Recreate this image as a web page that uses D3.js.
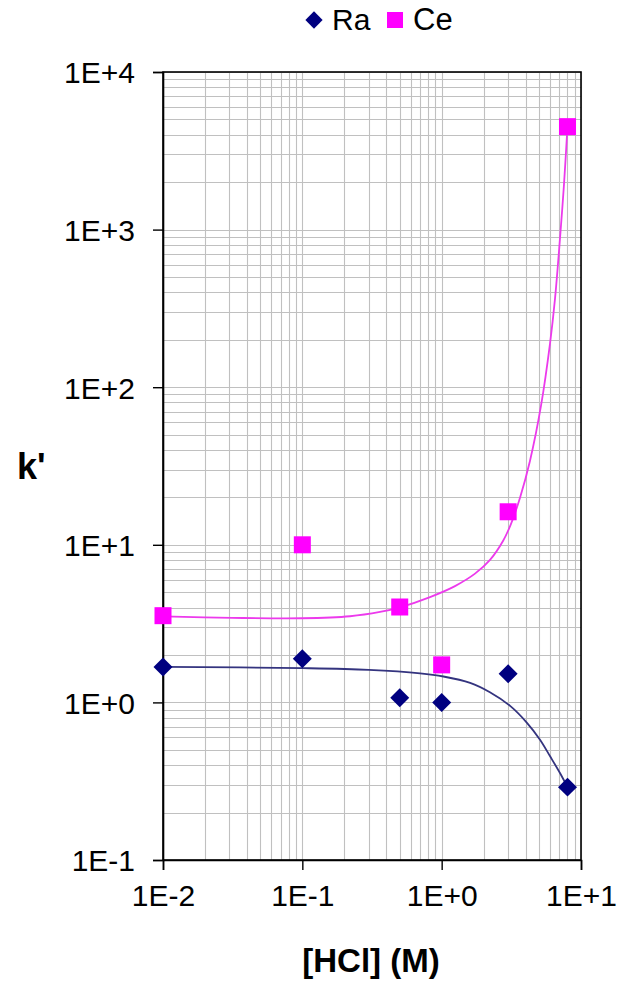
<!DOCTYPE html>
<html>
<head>
<meta charset="utf-8">
<script src="https://cdn.jsdelivr.net/npm/d3@7"></script>
<style>
  html, body { margin: 0; padding: 0; background: #fff; }
  svg { display: block; }
  text { font-family: "Liberation Sans", Arial, Helvetica, sans-serif; fill: #000; }
</style>
</head>
<body>
<svg id="chart" width="625" height="982"></svg>
<script>
// HCl concentration (M) and measured retention factors k'
const hcl = [0.01, 0.1, 0.5, 1, 3, 8];
const kRa = [1.68, 1.89, 1.07, 1.0, 1.52, 0.29];
const kCe = [3.55, 10.0, 4.03, 1.73, 16.2, 4500];

// Fitted curves (k' versus [HCl])
const fitRaX = [0.01, 0.1, 0.3, 0.7, 1.03, 1.6, 2.22, 3.1, 4.08, 5.08, 6.0, 7.08, 8];
const fitRaY = [1.68, 1.65, 1.61, 1.53, 1.46, 1.33, 1.16, 0.95, 0.745, 0.58, 0.455, 0.355, 0.29];
const fitCeX = [0.01, 0.0313, 0.0995, 0.22, 0.361, 0.502, 0.825, 1.246, 1.735, 2.223, 2.755,
                3.146, 3.65, 4.306, 5.164, 5.992, 6.509, 7.07, 7.553, 8];
const fitCeY = [3.51, 3.44, 3.42, 3.52, 3.75, 4.01, 4.66, 5.47, 6.56, 8.02, 10.57,
                13.59, 19.9, 34.18, 76.3, 189.1, 364.9, 884.4, 1947, 4500];

// Axis ticks
const xTicks = [0.01, 0.1, 1, 10];
const xTickLabels = ["1E-2", "1E-1", "1E+0", "1E+1"];
const yTicks = [0.1, 1, 10, 100, 1000, 10000];
const yTickLabels = ["1E-1", "1E+0", "1E+1", "1E+2", "1E+3", "1E+4"];

const seriesNames = ["Ra", "Ce"];

const plot = { left: 163, top: 72, width: 418, height: 788 };
const svg = d3.select("#chart");

const x = d3.scaleLog().domain([0.01, 10]).range([plot.left, plot.left + plot.width]);
const y = d3.scaleLog().domain([0.1, 10000]).range([plot.top + plot.height, plot.top]);

// Log grid: every 1..9 multiple within each decade
function logGrid(lo, hi) {
  const out = [];
  for (let e = lo; e < hi; e++) {
    for (let m = 1; m <= 9; m++) out.push(m * Math.pow(10, e));
  }
  out.push(Math.pow(10, hi));
  return out;
}

const grid = svg.append("g").attr("stroke", "#c0c0c0").attr("stroke-width", 1.1);
grid.selectAll("line.gx").data(logGrid(-2, 1)).join("line")
  .attr("x1", d => Math.round(x(d)) + 0.5).attr("x2", d => Math.round(x(d)) + 0.5)
  .attr("y1", plot.top).attr("y2", plot.top + plot.height);
grid.selectAll("line.gy").data(logGrid(-1, 4)).join("line")
  .attr("y1", d => Math.round(y(d)) + 0.5).attr("y2", d => Math.round(y(d)) + 0.5)
  .attr("x1", plot.left).attr("x2", plot.left + plot.width);

// Plot frame
svg.append("rect")
  .attr("x", plot.left).attr("y", plot.top)
  .attr("width", plot.width).attr("height", plot.height)
  .attr("fill", "none").attr("stroke", "#000").attr("stroke-width", 1.6);

// Axes
const xAxis = d3.axisBottom(x).tickValues(xTicks)
  .tickFormat((d, i) => xTickLabels[i]).tickSize(10).tickPadding(12);
const gx = svg.append("g").attr("transform", `translate(0,${plot.top + plot.height})`).call(xAxis);
gx.select(".domain").attr("stroke-width", 1.6);
gx.selectAll(".tick line").attr("stroke", "#000").attr("stroke-width", 1.4);
gx.selectAll(".tick text").attr("font-size", 30).attr("dy", "0.8em")
  .attr("font-family", "'Liberation Sans', Arial, sans-serif");

const yAxis = d3.axisLeft(y).tickValues(yTicks)
  .tickFormat((d, i) => yTickLabels[i]).tickSize(10).tickPadding(18);
const gy = svg.append("g").attr("transform", `translate(${plot.left},0)`).call(yAxis);
gy.select(".domain").attr("stroke-width", 1.6);
gy.selectAll(".tick line").attr("stroke", "#000").attr("stroke-width", 1.4);
gy.selectAll(".tick text").attr("font-size", 30).attr("dy", "0.36em")
  .attr("font-family", "'Liberation Sans', Arial, sans-serif");

// Axis titles
svg.append("text").attr("x", 371).attr("y", 972).attr("text-anchor", "middle")
  .attr("font-size", 33).attr("font-weight", "bold").text("[HCl] (M)");
svg.append("text").attr("x", 17).attr("y", 479)
  .attr("font-size", 36).attr("font-weight", "bold").text("k'");

// Fitted curves
const line = d3.line().x(d => x(d[0])).y(d => y(d[1])).curve(d3.curveCatmullRom.alpha(0.5));
svg.append("path").datum(d3.zip(fitRaX, fitRaY)).attr("d", line)
  .attr("fill", "none").attr("stroke", "#34347f").attr("stroke-width", 1.8);
svg.append("path").datum(d3.zip(fitCeX, fitCeY)).attr("d", line)
  .attr("fill", "none").attr("stroke", "#ec3aec").attr("stroke-width", 1.8);

// Markers
const diamond = d3.symbol().type(d3.symbolDiamond2).size(230);
svg.append("g").selectAll("path").data(d3.zip(hcl, kRa)).join("path")
  .attr("d", diamond)
  .attr("transform", d => `translate(${x(d[0])},${y(d[1])})`)
  .attr("fill", "#000080");
const sq = 17;
svg.append("g").selectAll("rect").data(d3.zip(hcl, kCe)).join("rect")
  .attr("x", d => x(d[0]) - sq / 2).attr("y", d => y(d[1]) - sq / 2)
  .attr("width", sq).attr("height", sq).attr("fill", "#ff00ff");

// Legend
const legend = svg.append("g");
legend.append("path").attr("d", d3.symbol().type(d3.symbolDiamond2).size(190))
  .attr("transform", "translate(314,20)").attr("fill", "#000080");
legend.append("text").attr("x", 332).attr("y", 30).attr("font-size", 30).text(seriesNames[0]);
legend.append("rect").attr("x", 387).attr("y", 12).attr("width", 16).attr("height", 16)
  .attr("fill", "#ff00ff");
legend.append("text").attr("x", 413).attr("y", 30).attr("font-size", 31).text(seriesNames[1]);
</script>
</body>
</html>
